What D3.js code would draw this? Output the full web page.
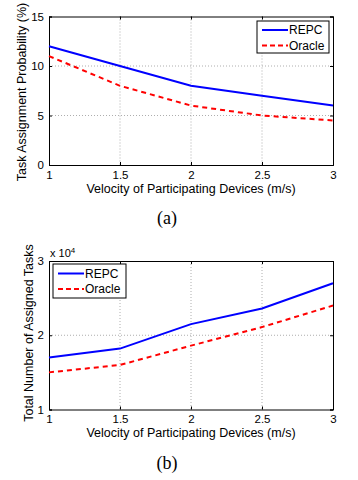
<!DOCTYPE html>
<html><head><meta charset="utf-8">
<script src="https://cdn.jsdelivr.net/npm/d3@7"></script>
<style>body{margin:0;background:#fff}svg{display:block}</style>
</head><body>
<svg id="c" width="358" height="480"></svg>
<script>
const velocity = [1, 1.5, 2, 2.5, 3];
const xTicks = [1, 1.5, 2, 2.5, 3];
// (a) Task assignment probability (%)
const probREPC = [12, 10, 8, 7, 6];
const probOracle = [11, 8, 6, 5, 4.5];
const probTicks = [0, 5, 10, 15];
// (b) Total number of assigned tasks (x 10^4)
const tasksREPC = [1.70, 1.82, 2.15, 2.36, 2.70];
const tasksOracle = [1.50, 1.60, 1.86, 2.11, 2.40];
const tasksTicks = [1, 2, 3];
const seriesNames = ["REPC", "Oracle"];

const svg = d3.select("#c");
const font = "Liberation Sans, Arial, sans-serif";

function panel(o) {
  const x = d3.scaleLinear().domain([1, 3]).range([49, 333]);
  const y = d3.scaleLinear().domain(o.ydom).range([o.bottom, o.top]);
  const g = svg.append("g");
  // grid
  g.selectAll(".gx").data(xTicks.slice(1, -1)).join("line")
    .attr("x1", d => x(d)).attr("x2", d => x(d)).attr("y1", o.top).attr("y2", o.bottom)
    .attr("stroke", "#999").attr("stroke-width", 0.8).attr("stroke-dasharray", "1,2");
  g.selectAll(".gy").data(o.yticks.slice(1, -1)).join("line")
    .attr("y1", d => y(d)).attr("y2", d => y(d)).attr("x1", 49).attr("x2", 333)
    .attr("stroke", "#999").attr("stroke-width", 0.8).attr("stroke-dasharray", "1,2");
  // axes with inward ticks
  const xa = d3.axisBottom(x).tickValues(xTicks).tickSize(-3).tickPadding(5).tickFormat(d3.format("~g"));
  const xg = g.append("g").attr("transform", `translate(0,${o.bottom})`).call(xa);
  const xa2 = d3.axisTop(x).tickValues(xTicks).tickSize(-3).tickFormat("");
  g.append("g").attr("transform", `translate(0,${o.top})`).call(xa2);
  const ya = d3.axisLeft(y).tickValues(o.yticks).tickSize(-3).tickPadding(5).tickFormat(d3.format("~g"));
  g.append("g").attr("transform", `translate(49,0)`).call(ya);
  const ya2 = d3.axisRight(y).tickValues(o.yticks).tickSize(-3).tickFormat("");
  g.append("g").attr("transform", `translate(333,0)`).call(ya2);
  g.selectAll(".domain").attr("stroke", "#000").attr("stroke-width", 1);
  g.selectAll(".tick line").attr("stroke", "#000");
  g.selectAll(".tick text").attr("font-family", font).attr("font-size", 11.5).attr("fill", "#000");
  xg.selectAll(".tick text").attr("dy", "0.75em");
  // lines
  const line = d3.line().x((d, i) => x(velocity[i])).y(d => y(d));
  g.append("path").datum(o.s1).attr("d", line).attr("fill", "none")
    .attr("stroke", "#0000ff").attr("stroke-width", 2);
  g.append("path").datum(o.s2).attr("d", line).attr("fill", "none")
    .attr("stroke", "#ff0000").attr("stroke-width", 2).attr("stroke-dasharray", "5,4");
  // legend
  const L = o.legend;
  const lg = g.append("g");
  lg.append("rect").attr("x", L.x).attr("y", L.y).attr("width", L.w).attr("height", L.h)
    .attr("fill", "#fff").attr("stroke", "#000").attr("stroke-width", 1);
  seriesNames.forEach((n, i) => {
    const yy = L.y + L.r0 + i * 15.5;
    lg.append("line").attr("x1", L.x + 5).attr("x2", L.x + 31).attr("y1", yy).attr("y2", yy)
      .attr("stroke", i ? "#ff0000" : "#0000ff").attr("stroke-width", 2)
      .attr("stroke-dasharray", i ? "5,3" : null);
    lg.append("text").attr("x", L.x + 32).attr("y", yy + 4.3).text(n)
      .attr("font-family", font).attr("font-size", 12);
  });
  // axis titles
  g.append("text").attr("x", 191).attr("y", o.bottom + 27.5).attr("text-anchor", "middle")
    .attr("font-family", font).attr("font-size", 12.5).text("Velocity of Participating Devices (m/s)");
  g.append("text").attr("transform", `translate(${o.ylx},${o.yly}) rotate(-90)`)
    .attr("text-anchor", "middle").attr("font-family", font).attr("font-size", 12.5).text(o.ylabel);
  g.append("text").attr("x", 167).attr("y", o.bottom + 59).attr("text-anchor", "middle")
    .attr("font-family", "Liberation Serif, Times New Roman, serif").attr("font-size", 18).text(o.cap);
  return g;
}

panel({ top: 16.5, bottom: 165, ydom: [0, 15], yticks: probTicks, s1: probREPC, s2: probOracle,
  legend: { x: 257, y: 21, w: 72, h: 32, r0: 9 }, ylabel: "Task Assignment Probability (%)",
  ylx: 26, yly: 92, cap: "(a)" });
const gb = panel({ top: 261, bottom: 409.5, ydom: [1, 3], yticks: tasksTicks, s1: tasksREPC, s2: tasksOracle,
  legend: { x: 53, y: 264, w: 73, h: 34, r0: 9.5 }, ylabel: "Total Number of Assigned Tasks",
  ylx: 33, yly: 333, cap: "(b)" });
const ex = gb.append("text").attr("x", 50).attr("y", 257).attr("font-family", font).attr("font-size", 11);
ex.append("tspan").text("x 10");
ex.append("tspan").attr("dy", -4).attr("font-size", 8).text("4");
</script>
</body></html>
